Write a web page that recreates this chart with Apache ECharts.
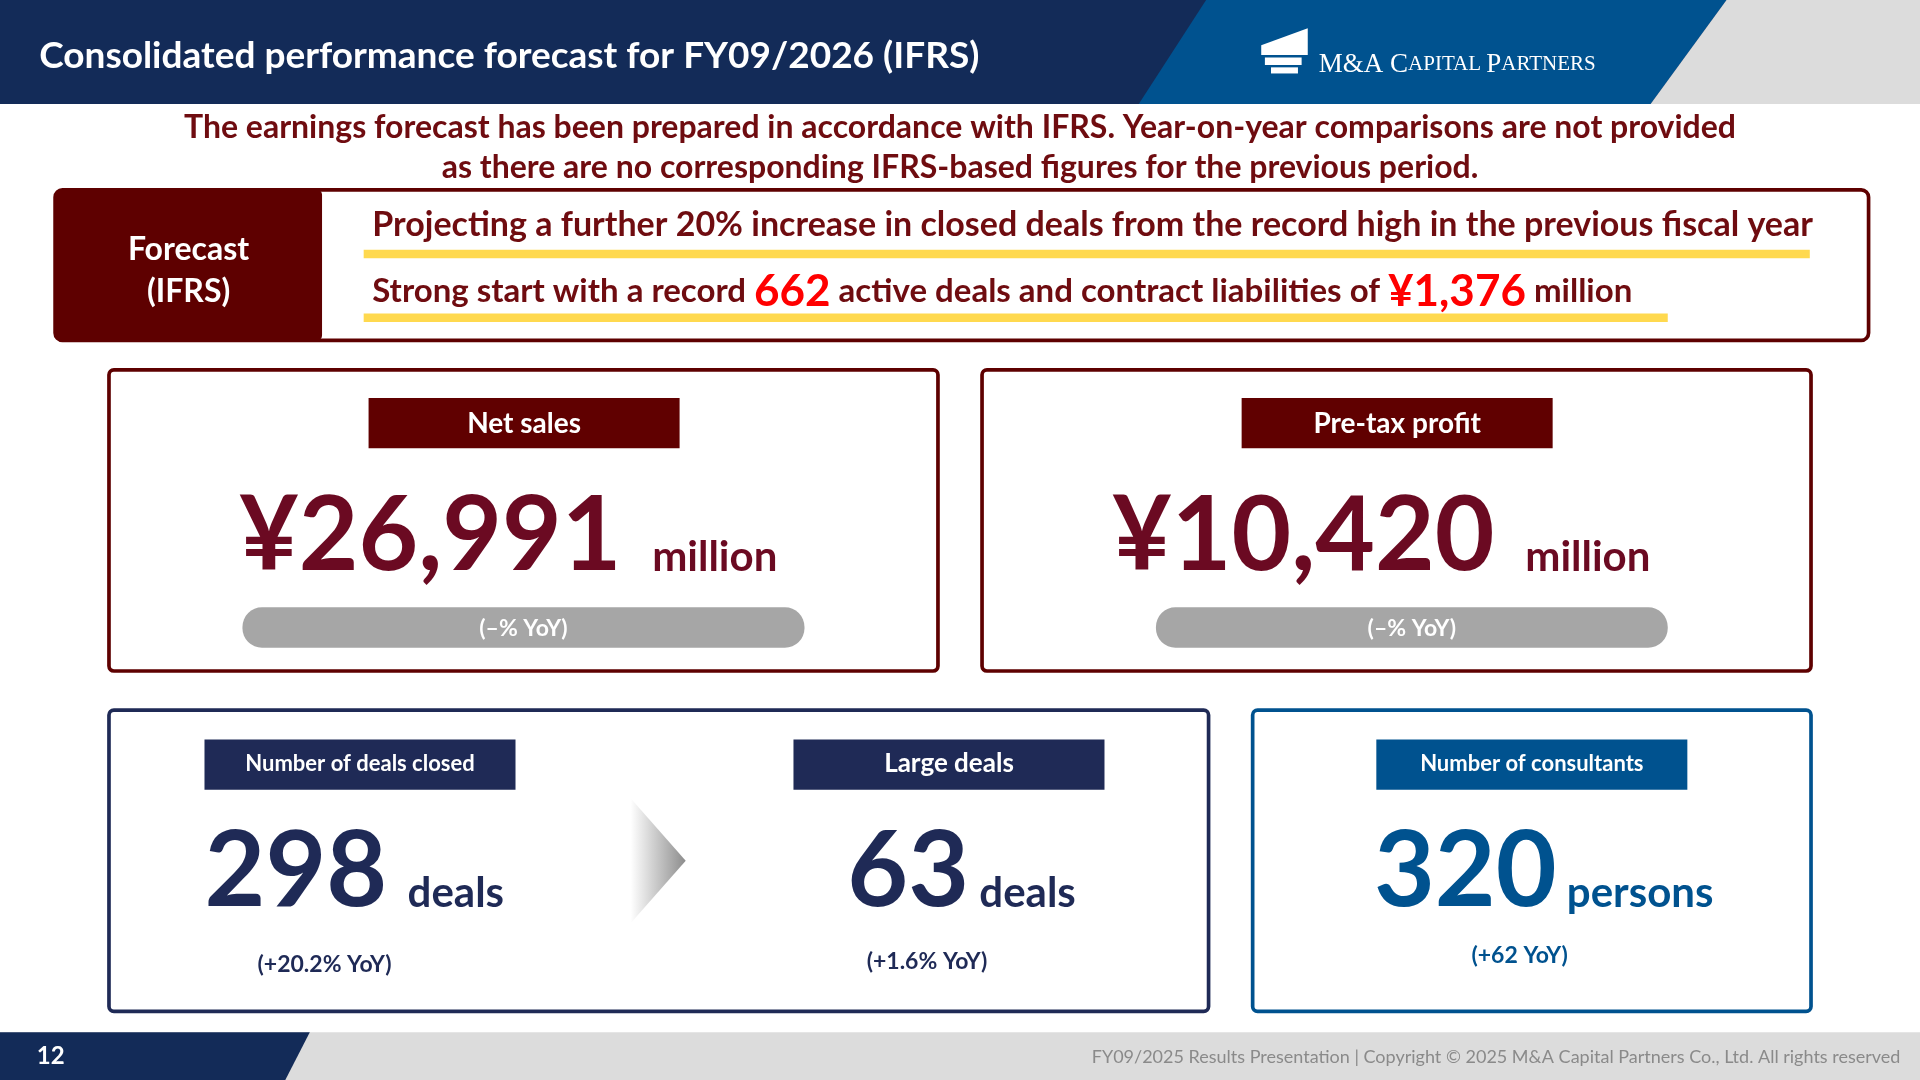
<!DOCTYPE html>
<html>
<head>
<meta charset="utf-8">
<script src="https://cdn.jsdelivr.net/npm/echarts@6/dist/echarts.min.js"></script>
<style>
  html, body { margin: 0; padding: 0; background: #fff; }
  #main { width: 1920px; height: 1080px; }
</style>
</head>
<body>
<div id="main"></div>
<script>
// slide content
var title = "Consolidated performance forecast for FY09/2026 (IFRS)";
var noteLines = [
    "The earnings forecast has been prepared in accordance with IFRS. Year-on-year comparisons are not provided",
    "as there are no corresponding IFRS-based figures for the previous period."
];
var highlights = ["662", "¥1,376"];
var profitLabels = ["Net sales", "Pre-tax profit"];
var profitValues = ["¥26,991", "¥10,420"];
var profitYoY = ["(–% YoY)", "(–% YoY)"];
var dealLabels = ["Number of deals closed", "Large deals", "Number of consultants"];
var dealValues = ["298", "63", "320"];
var dealUnits = ["deals", "deals", "persons"];
var dealYoY = ["(+20.2% YoY)", "(+1.6% YoY)", "(+62 YoY)"];
var pageNo = "12";
var footer = "FY09/2025 Results Presentation | Copyright © 2025 M&A Capital Partners Co., Ltd. All rights reserved";

var S = 1920 / 1568;
function s(v) { return v * S; }
var FONT = "Lato, 'Open Sans', sans-serif";
function f(size) { return "bold " + Math.round(s(size)) + "px " + FONT; }

var RED = "#5e0000", WINE = "#6b0a22", NAVY = "#1f2a56", BLUE = "#00528f";

var g = [];
function rect(x, y, w, h, fill, stroke, lw, r) {
    g.push({ type: "rect", shape: { x: s(x), y: s(y), width: s(w), height: s(h), r: r ? s(r) : 0 },
        style: { fill: fill || "none", stroke: stroke || null, lineWidth: lw ? s(lw) : 0 } });
}
function poly(pts, fill) {
    g.push({ type: "polygon", shape: { points: pts.map(function (p) { return [s(p[0]), s(p[1])]; }) }, style: { fill: fill } });
}
function text(t, x, y, size, color, align) {
    g.push({ type: "text", style: { text: t, x: s(x), y: s(y), font: f(size), fill: color, align: align || "left", verticalAlign: "middle" } });
}

// header
rect(0, 0, 1568, 85, "#132b58");
poly([[985, 0], [1410, 0], [1348, 85], [930, 85]], BLUE);
poly([[1410, 0], [1568, 0], [1568, 85], [1348, 85]], "#dcdcdc");
text(title, 32, 46, 30, "#fff");
// logo
poly([[1030, 37], [1068, 23], [1068, 45], [1030, 45]], "#fff");
rect(1033, 47, 30, 6, "#fff");
rect(1038, 55, 22, 5, "#fff");
g.push({ type: "text", style: {
    text: "{b|M&A C}{m|APITAL }{b|P}{m|ARTNERS}", x: s(1077), y: s(53), verticalAlign: "middle",
    rich: { b: { font: Math.round(s(22)) + "px 'Liberation Serif', serif", fill: "#fff" },
            m: { font: Math.round(s(17.5)) + "px 'Liberation Serif', serif", fill: "#fff" } } } });

// note
text(noteLines[0], 784, 104, 26, "#6f0c10", "center");
text(noteLines[1], 784, 137, 26, "#6f0c10", "center");

// forecast box
rect(45, 155, 1481, 123, "#fff", RED, 3, 6);
rect(45, 155, 218, 123, RED, null, 0, 4);
text("Forecast", 154, 204, 26, "#fff", "center");
text("(IFRS)", 154, 238, 26, "#fff", "center");
rect(297, 204, 1181, 7, "#ffd94f");
rect(297, 256, 1065, 7, "#ffd94f");
text("Projecting a further 20% increase in closed deals from the record high in the previous fiscal year", 304, 184, 27.4, "#6f0c10");
g.push({ type: "text", style: {
    text: "{a|Strong start with a record }{r|" + highlights[0] + "}{a| active deals and contract liabilities of }{r|" + highlights[1] + "}{a| million}",
    x: s(304), y: s(238), verticalAlign: "middle",
    rich: { a: { font: f(27.2), fill: "#6f0c10" }, r: { font: f(36), fill: "#ff0000" } } } });

// profit boxes
[89, 802].forEach(function (bx, i) {
    rect(bx, 302, 677, 246, "#fff", RED, 3, 4);
    var cx = bx + 339;
    rect(cx - 127, 325, 254, 41, "#600000");
    text(profitLabels[i], cx, 346, 23, "#fff", "center");
    g.push({ type: "text", style: {
        text: "{v|" + profitValues[i] + "}{u|   million}", x: s(cx - 13), y: s(438), align: "center", verticalAlign: "middle",
        rich: { v: { font: f(84), fill: WINE, verticalAlign: "bottom" },
                u: { font: f(34), fill: WINE, verticalAlign: "bottom", padding: [0, 0, s(8), 0] } } } });
    var px = i === 0 ? 198 : 944, pw = i === 0 ? 459 : 418;
    rect(px, 496, pw, 33, "#a6a6a6", null, 0, 16);
    text(profitYoY[i], px + pw / 2, 513, 19, "#fff", "center");
});

// deals boxes
rect(89, 580, 898, 246, "#fff", NAVY, 3, 4);
rect(1023, 580, 456, 246, "#fff", BLUE, 3, 4);
g.push({ type: "polygon", shape: { points: [[s(515), s(652)], [s(560), s(703)], [s(515), s(754)]] },
    style: { fill: new echarts.graphic.LinearGradient(0, 0, 1, 0, [{ offset: 0, color: "#ffffff" }, { offset: 1, color: "#8c8c8c" }]) } });
var dealCfg = [
    { lx: 294, vx: 167, c: NAVY, gap: "  ", fs: 18 },
    { lx: 775, vx: 692, c: NAVY, gap: " ", fs: 21 },
    { lx: 1251, vx: 1122, c: BLUE, gap: " ", fs: 18 }
];
dealCfg.forEach(function (d, i) {
    rect(d.lx - 127, 604, 254, 41, d.c);
    text(dealLabels[i], d.lx, 624, d.fs, "#fff", "center");
    g.push({ type: "text", style: {
        text: "{v|" + dealValues[i] + "}{u|" + d.gap + dealUnits[i] + "}", x: s(d.vx), y: s(712), verticalAlign: "middle",
        rich: { v: { font: f(86), fill: d.c, verticalAlign: "bottom" },
                u: { font: f(34), fill: d.c, verticalAlign: "bottom", padding: [0, 0, s(8), 0] } } } });
});
text(dealYoY[0], 265, 788, 19, NAVY, "center");
text(dealYoY[1], 757, 785, 19, NAVY, "center");
text(dealYoY[2], 1241, 780, 19, BLUE, "center");

// footer
rect(0, 843, 1568, 39, "#dcdcdc");
poly([[0, 843], [253, 843], [233, 882], [0, 882]], "#132b58");
text(pageNo, 30, 863, 20, "#fff");
g.push({ type: "text", style: { text: footer, x: s(1552), y: s(863), align: "right", verticalAlign: "middle",
    font: Math.round(s(14.7)) + "px " + FONT, fill: "#8a8a8a" } });

var chart = echarts.init(document.getElementById("main"));
chart.setOption({ animation: false, graphic: { elements: g } });
</script>
</body>
</html>
